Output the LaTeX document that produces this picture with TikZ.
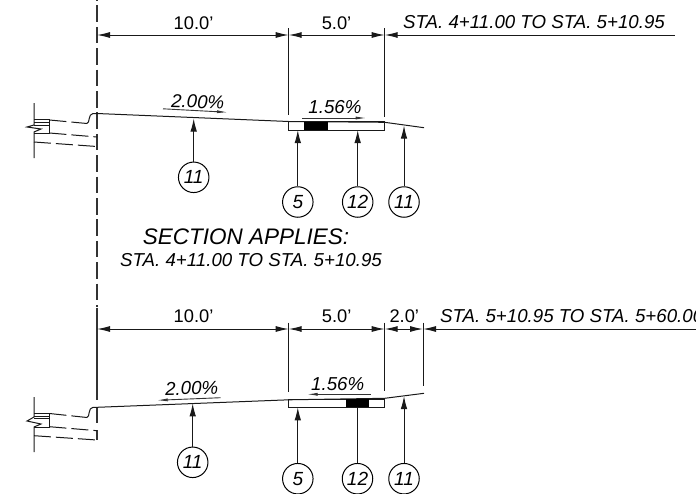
\documentclass[tikz,border=0pt]{standalone}
\usepackage{fontspec}
\setmainfont{Liberation Sans}
\usetikzlibrary{arrows.meta}
\newcommand{\ft}{\char39\relax}
\tikzset{
  ln/.style={line width=1pt,black!90},
  cl/.style={line width=1.3pt,black!80,dash pattern=on 16.5pt off 4.9pt},
  dimline/.style={ln,{Latex[length=13pt,width=6pt]}-{Latex[length=13pt,width=6pt]}},
  dimone/.style={ln,{Latex[length=13pt,width=6pt]}-},
  leader/.style={ln,-{Latex[length=13pt,width=6.5pt]}},
  slope/.style={line width=0.9pt,black!80,-{Latex[length=11pt,width=3pt]}},
  broken/.style={ln,dash pattern=on 17pt off 5pt},
  tag/.style={circle,draw,line width=1pt,minimum size=30.5pt,inner sep=0pt,font=\fontsize{19}{19}\selectfont\itshape},
  dimtxt/.style={inner sep=0pt,font=\fontsize{18.3}{18}\selectfont},
  ittxt/.style={inner sep=0pt,font=\fontsize{18.7}{18}\selectfont\itshape},
  bigtxt/.style={inner sep=0pt,font=\fontsize{22.5}{24}\selectfont\itshape}
}
\begin{document}
\begin{tikzpicture}[x=1pt,y=-1pt]
\clip (0,0) rectangle (696,493);
% centre line
\coordinate (cla) at (97,-16);
\coordinate (clb) at (97,307);
\coordinate (clc) at (97,322);
\coordinate (cld) at (97,400);
\draw[cl] (cla) -- (clb);
\draw[line width=1.3pt,black!80] (97,307.5) -- (clc) (clc) -- (cld);
\draw[line width=1.1pt,black!80] (97,407) -- (97,423) (97,430) -- (97,440);
% ---- top section
\coordinate (ta) at (97,35);
\coordinate (tb) at (288.7,35);
\coordinate (tc) at (384.7,35);
\coordinate (td) at (675,35);
\draw[dimline] (ta) -- (tb);
\draw[dimline] (tb) -- (tc);
\draw[dimone] (tc) -- (td);
\draw[ln] (288.7,28) -- (288.7,115);
\draw[ln] (384.7,28) -- (384.7,116.5);
\node[dimtxt] (t10) at (193.5,23) {10.0\ft};
\node[dimtxt] (t5) at (336.5,23) {5.0\ft};
\node[ittxt,anchor=base west] (tsta) at (403,28) {STA. 4+11.00 TO STA. 5+10.95};
% road
\draw[ln] (87,123.5) .. controls (90,123) and (88,114) .. (93,113.5) -- (97,113.5) -- (288.7,121.5) -- (384.7,122.3) -- (424,127.7);
\draw[ln] (288.7,121.5) rectangle (384.7,130);
\fill[black] (304,122) rectangle (327.7,130);
\draw[slope] (302,118) -- (366.7,118);
\draw[slope] (163,108.8) -- (228,112.3);
\node[ittxt,rotate=-1.5] (tp2) at (197.7,101.7) {2.00\%};
\node[ittxt] (tp1) at (335,106.7) {1.56\%};
% curb detail
\draw[ln] (34,103) -- (34,125) -- (27,127) -- (41,129) -- (34,132) -- (34,158);
\draw[ln] (34,119.5) -- (49.5,119.5) (34,122) -- (49.5,122) (34,125) -- (49.5,125);
\draw[ln] (49.5,119.5) -- (49.5,133) (34,133) -- (49.5,133);
\draw[broken] (49.5,120) -- (87,123.5);
\draw[broken] (49.5,133) -- (97,137);
\draw[broken] (34,142) -- (97,146.5);
% leaders
\node[tag] (c1) at (193.7,177.3) {11};
\node[tag] (c2) at (297.8,202) {5};
\node[tag] (c3) at (357.7,202) {12};
\node[tag] (c4) at (404,202) {11};
\coordinate (p1) at (193.7,118.5);
\coordinate (p2) at (297.8,130);
\coordinate (p3) at (357.7,130);
\coordinate (p4) at (404,125.5);
\draw[leader] (c1) -- (p1);
\draw[leader] (c2) -- (p2);
\draw[leader] (c3) -- (p3);
\draw[leader] (c4) -- (p4);
% captions
\node[bigtxt,anchor=base west] (cap1) at (142.7,244) {SECTION APPLIES:};
\node[ittxt,anchor=base west] (cap2) at (120,266.7) {STA. 4+11.00 TO STA. 5+10.95};
% ---- bottom section
\coordinate (ba) at (97,329);
\coordinate (bb) at (288.7,329);
\coordinate (bc) at (384.7,329);
\coordinate (bd) at (423,329);
\coordinate (be) at (696,329);
\draw[dimline] (ba) -- (bb);
\draw[dimline] (bb) -- (bc);
\draw[dimline] (bc) -- (bd);
\draw[dimone] (bd) -- (be);
\draw[ln] (288.7,322.7) -- (288.7,392.3);
\draw[ln] (384.7,322.7) -- (384.7,390.7);
\draw[ln] (423,322.7) -- (423,386);
\node[dimtxt] (b10) at (193.5,316) {10.0\ft};
\node[dimtxt] (b5) at (336.7,316) {5.0\ft};
\node[dimtxt] (b2) at (404.3,316) {2.0\ft};
\node[ittxt,anchor=base west] (bsta) at (440,322.7) {STA. 5+10.95 TO STA. 5+60.00};
% road
\draw[ln] (87,417.5) .. controls (90,417) and (88,407.5) .. (93,407.3) -- (97,407.3) -- (288.7,399.8) -- (384.7,398.3) -- (424,393.3);
\draw[ln] (288.7,399.8) rectangle (384.7,407.3);
\fill[black] (346,399.3) rectangle (369.3,407.3);
\draw[slope] (370.7,394.3) -- (306.7,394.3);
\draw[slope] (220.7,397.7) -- (156.7,400.3);
\node[ittxt,rotate=1] (bp2) at (191.7,388.3) {2.00\%};
\node[ittxt] (bp1) at (337.7,384) {1.56\%};
% curb detail
\draw[ln] (34,397) -- (34,417) -- (27,421) -- (41,424) -- (34,427) -- (34,452);
\draw[ln] (34,413.3) -- (49.5,413.3) (34,416) -- (49.5,416) (34,418.5) -- (49.5,418.5);
\draw[ln] (49.5,413.3) -- (49.5,427) (34,427) -- (49.5,427);
\draw[broken] (49.5,413.5) -- (87,417.5);
\draw[broken] (49.5,426.7) -- (97,430.7);
\draw[broken] (34,435.7) -- (97,440);
% leaders
\node[tag] (d1) at (192.7,462.3) {11};
\node[tag] (d2) at (297.8,478.7) {5};
\node[tag] (d3) at (357.5,478.7) {12};
\node[tag] (d4) at (404,478.7) {11};
\coordinate (q1) at (192.7,403.3);
\coordinate (q2) at (297.8,407.3);
\coordinate (q3) at (357.5,407);
\coordinate (q4) at (404,396);
\draw[leader] (d1) -- (q1);
\draw[leader] (d2) -- (q2);
\draw[ln] (d3) -- (q3);
\draw[leader] (d4) -- (q4);
\end{tikzpicture}
\end{document}
